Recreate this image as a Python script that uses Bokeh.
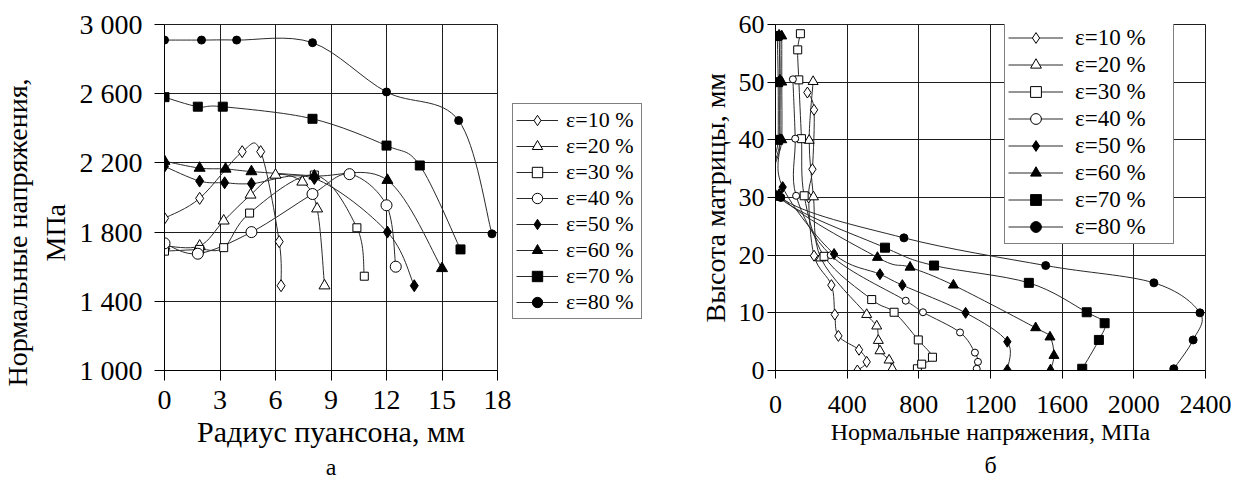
import numpy as np
from bokeh.plotting import figure
from bokeh.models import Range1d, FixedTicker, Legend, LegendItem, Title
from bokeh.layouts import row
from bokeh.embed import file_html
from bokeh.resources import INLINE

SERIES = ["ε=10 %", "ε=20 %", "ε=30 %", "ε=40 %", "ε=50 %", "ε=60 %", "ε=70 %", "ε=80 %"]

# ---------------- chart "а": stress vs punch radius ----------------
A_X_TICKS = [0, 3, 6, 9, 12, 15, 18]
A_Y_TICKS = [1000, 1400, 1800, 2200, 2600, 3000]
A_Y_LABELS = ["1 000", "1 400", "1 800", "2 200", "2 600", "3 000"]

a_r10 = [0, 1.9, 4.2, 5.2, 6.2, 6.3]
a_s10 = [1880, 1995, 2265, 2265, 1745, 1490]
a_r20 = [0, 1.9, 3.2, 4.65, 6.0, 7.45, 8.25, 8.65]
a_s20 = [1720, 1720, 1865, 2015, 2130, 2090, 1935, 1490]
a_r30 = [0, 1.9, 3.2, 4.6, 8.1, 10.4, 10.8]
a_s30 = [1690, 1700, 1710, 1910, 2130, 1825, 1545]
a_r40 = [0, 1.8, 4.7, 8.0, 10.0, 12.0, 12.5]
a_s40 = [1735, 1675, 1800, 2020, 2135, 1955, 1600]
a_r50 = [0, 1.9, 3.25, 4.7, 8.1, 12.05, 13.5]
a_s50 = [2180, 2095, 2085, 2080, 2110, 1800, 1490]
a_r60 = [0, 1.9, 3.3, 4.7, 8.1, 12.05, 15.0]
a_s60 = [2210, 2170, 2165, 2150, 2125, 2100, 1590]
a_r70 = [0, 1.8, 3.15, 8.0, 12.0, 13.8, 16.0]
a_s70 = [2580, 2525, 2525, 2455, 2300, 2185, 1700]
a_r80 = [0, 2.0, 3.9, 8.0, 12.0, 15.9, 17.7]
a_s80 = [2910, 2910, 2910, 2895, 2610, 2445, 1790]

# ---------------- chart "б": die height vs stress ----------------
B_X_TICKS = [0, 400, 800, 1200, 1600, 2000, 2400]
B_Y_TICKS = [0, 10, 20, 30, 40, 50, 60]

b_s10 = [457, 509, 466, 351, 331, 312, 215, 185, 206, 215, 178]
b_h10 = [0, 1.5, 3.6, 6.0, 9.7, 14.8, 19.9, 30.0, 34.9, 45.2, 48.2]
b_s20 = [652, 634, 583, 574, 565, 509, 253, 212, 188, 210]
b_h20 = [0.3, 1.8, 3.4, 5.2, 7.7, 9.7, 19.5, 30.1, 39.9, 50.1]
b_s30 = [792, 816, 876, 797, 662, 537, 271, 160, 145, 130, 124, 139]
b_h30 = [0.3, 1.1, 2.3, 5.3, 10.1, 12.3, 19.8, 30.3, 40.2, 50.4, 55.6, 58.4]
b_s40 = [1123, 1130, 1113, 1030, 823, 727, 308, 115, 110, 97]
b_h40 = [0.3, 1.5, 3.1, 6.6, 10.1, 12.1, 20.0, 30.3, 40.2, 50.5]
b_s50 = [1294, 1294, 1061, 708, 583, 327, 40, 25, 25, 20]
b_h50 = [0.1, 5.0, 10.0, 14.8, 16.7, 20.2, 31.8, 40.1, 50.4, 58.2]
b_s60 = [1535, 1554, 1532, 1452, 993, 751, 569, 20, 35, 35, 35]
b_h60 = [0.1, 2.6, 5.8, 7.4, 14.8, 17.9, 19.6, 30.5, 40.0, 50.0, 58.0]
b_s70 = [1712, 1805, 1837, 1737, 1414, 885, 611, 10, 15, 15, 10]
b_h70 = [0.3, 5.3, 8.2, 10.1, 15.2, 18.2, 21.3, 30.3, 40.0, 50.0, 58.0]
b_s80 = [2223, 2331, 2369, 2112, 1508, 717, 30, 25, 25, 25]
b_h80 = [0.3, 5.3, 10.0, 15.2, 18.2, 23.0, 30.0, 40.0, 50.0, 58.0]

A_DATA = [(a_r10, a_s10), (a_r20, a_s20), (a_r30, a_s30), (a_r40, a_s40),
          (a_r50, a_s50), (a_r60, a_s60), (a_r70, a_s70), (a_r80, a_s80)]
B_DATA = [(b_s10, b_h10), (b_s20, b_h20), (b_s30, b_h30), (b_s40, b_h40),
          (b_s50, b_h50), (b_s60, b_h60), (b_s70, b_h70), (b_s80, b_h80)]

# styles
MARKERS = ["diamond", "triangle", "square", "circle", "diamond", "triangle", "square", "circle"]
FILLS = ["white", "white", "white", "white", "black", "black", "black", "black"]
A_SIZES = [12, 11, 8, 11, 12, 11, 9, 8]
B_SIZES = [11, 10, 8, 7, 11, 10, 9, 8]
LINE_COL = "#2a2a2a"
FONT = "'Liberation Serif', 'Times New Roman', serif"

H = 489
TOP = 24
FRAME_H = 346
BOTTOM = H - TOP - FRAME_H


def smooth(p, xs, ys):
    x = np.asarray(xs, float)
    y = np.asarray(ys, float)
    n = len(x)
    xp = np.concatenate([x[:1], x, x[-1:]])
    yp = np.concatenate([y[:1], y, y[-1:]])
    cx0 = x[:-1] + (xp[2:n + 1] - xp[0:n - 1]) / 6.0
    cy0 = y[:-1] + (yp[2:n + 1] - yp[0:n - 1]) / 6.0
    cx1 = x[1:] - (xp[3:n + 2] - xp[1:n]) / 6.0
    cy1 = y[1:] - (yp[3:n + 2] - yp[1:n]) / 6.0
    return p.bezier(x0=x[:-1], y0=y[:-1], x1=x[1:], y1=y[1:],
                    cx0=cx0, cy0=cy0, cx1=cx1, cy1=cy1,
                    line_color=LINE_COL, line_width=1)


def make_fig(width, bl, br, xr, yr, xt, yt, tick_font, tick_out, xstand, ystand):
    p = figure(width=width, height=H, x_range=Range1d(*xr), y_range=Range1d(*yr),
               output_backend="svg", toolbar_location=None,
               min_border_left=bl, min_border_right=br, min_border_top=TOP, min_border_bottom=BOTTOM)
    p.background_fill_color = "white"
    p.border_fill_color = "white"
    p.outline_line_color = "#1e1e1e"
    p.outline_line_width = 1
    p.xaxis.ticker = FixedTicker(ticks=xt)
    p.yaxis.ticker = FixedTicker(ticks=yt)
    for ax in (p.xaxis, p.yaxis):
        ax.axis_line_color = "black"
        ax.axis_line_width = 1
        ax.major_tick_line_color = "black"
        ax.major_tick_in = 0
        ax.major_tick_out = tick_out
        ax.minor_tick_line_color = None
        ax.major_label_text_font = FONT
        ax.major_label_text_font_size = tick_font
        ax.major_label_text_color = "black"
        ax.axis_label_text_font = FONT
        ax.axis_label_text_font_style = "normal"
        ax.axis_label_text_color = "black"
    p.xaxis.major_label_standoff = xstand
    p.yaxis.major_label_standoff = ystand
    p.xgrid.ticker = FixedTicker(ticks=xt)
    p.ygrid.ticker = FixedTicker(ticks=yt)
    for g in (p.xgrid, p.ygrid):
        g.grid_line_color = "#1e1e1e"
        g.grid_line_width = 1
    return p


def side_title(p, text, side, size, align="center", offset=0, standoff=0, valign="middle"):
    t = Title(text=text, align=align, offset=offset, standoff=standoff, vertical_align=valign,
              text_font=FONT, text_font_size=size, text_font_style="normal", text_color="black")
    p.add_layout(t, side)


def build_legend(curves, marks, loc, pad, gw, gh, lw, stand, fsize):
    items = [LegendItem(label=SERIES[i], renderers=[curves[i], marks[i]]) for i in range(8)]
    return Legend(items=items, location=loc, orientation="vertical", padding=pad, spacing=0,
                  margin=0, glyph_width=gw, glyph_height=gh, label_height=gh, label_width=lw,
                  label_standoff=stand, label_text_font=FONT, label_text_font_size=fsize,
                  label_text_color="black", border_line_color="black", border_line_width=1,
                  background_fill_color="white", background_fill_alpha=1.0)


# ---------------- figure а ----------------
pa = make_fig(512, 164, 15, (0, 18), (1000, 3000), A_X_TICKS, A_Y_TICKS, "28px", 10, 10, 12)
pa.yaxis.major_label_overrides = dict(zip(A_Y_TICKS, A_Y_LABELS))
pa.xaxis.axis_label = "Радиус пуансона, мм"
pa.xaxis.axis_label_text_font_size = "30px"
pa.xaxis.axis_label_standoff = 3

for i, (xs, ys) in enumerate(A_DATA):
    smooth(pa, xs, ys)
for i, (xs, ys) in enumerate(A_DATA):
    pa.scatter(xs, ys, marker=MARKERS[i], size=A_SIZES[i], fill_color=FILLS[i],
               line_color="black", line_width=1)

side_title(pa, "МПа", "left", "28px", align="left", offset=109, standoff=10)
side_title(pa, "Нормальные напряжения,", "left", "28px", align="left", offset=-16, standoff=0)
side_title(pa, "а", "below", "24px", standoff=4)

# ---------------- legend panel of chart а ----------------
# The same series are attached here only so that the legend can draw their line and marker
# samples; this panel's ranges lie far from the data, so nothing of them is drawn in it.
pl = figure(width=138, height=H, x_range=Range1d(-1000, -999), y_range=Range1d(-1000, -999),
            output_backend="svg", toolbar_location=None, x_axis_location=None, y_axis_location=None,
            min_border_left=0, min_border_right=0, min_border_top=TOP, min_border_bottom=BOTTOM)
pl.grid.visible = False
pl.outline_line_color = None
pl.background_fill_color = "white"
pl.border_fill_color = "white"
l_curves, l_marks = [], []
for i, (xs, ys) in enumerate(A_DATA):
    l_curves.append(smooth(pl, xs, ys))
    l_marks.append(pl.scatter(xs, ys, marker=MARKERS[i], size=9, fill_color=FILLS[i],
                              line_color="black", line_width=1))
pl.add_layout(build_legend(l_curves, l_marks, (0, 51), 3, 42, 26, 72, 8, "22px"))

# ---------------- figure б ----------------
pb = make_fig(585, 125, 30, (0, 2400), (0, 60), B_X_TICKS, B_Y_TICKS, "26px", 8, 17, 3)
pb.xaxis.axis_label = "Нормальные напряжения, МПа"
pb.xaxis.axis_label_text_font_size = "24px"
pb.xaxis.axis_label_standoff = 3

b_curves, b_marks = [], []
for i, (xs, ys) in enumerate(B_DATA):
    b_curves.append(smooth(pb, xs, ys))
for i, (xs, ys) in enumerate(B_DATA):
    b_marks.append(pb.scatter(xs, ys, marker=MARKERS[i], size=B_SIZES[i], fill_color=FILLS[i],
                              line_color="black", line_width=1))
pb.add_layout(build_legend(b_curves, b_marks, (229, 126), 3, 55, 27, 95, 12, "23px"))

side_title(pb, "Высота матрицы, мм", "left", "28px", align="left", offset=48, standoff=8)
side_title(pb, "б", "below", "24px", standoff=6)

layout = row(pa, pl, pb)
open("out.html", "w").write(file_html(layout, INLINE))
